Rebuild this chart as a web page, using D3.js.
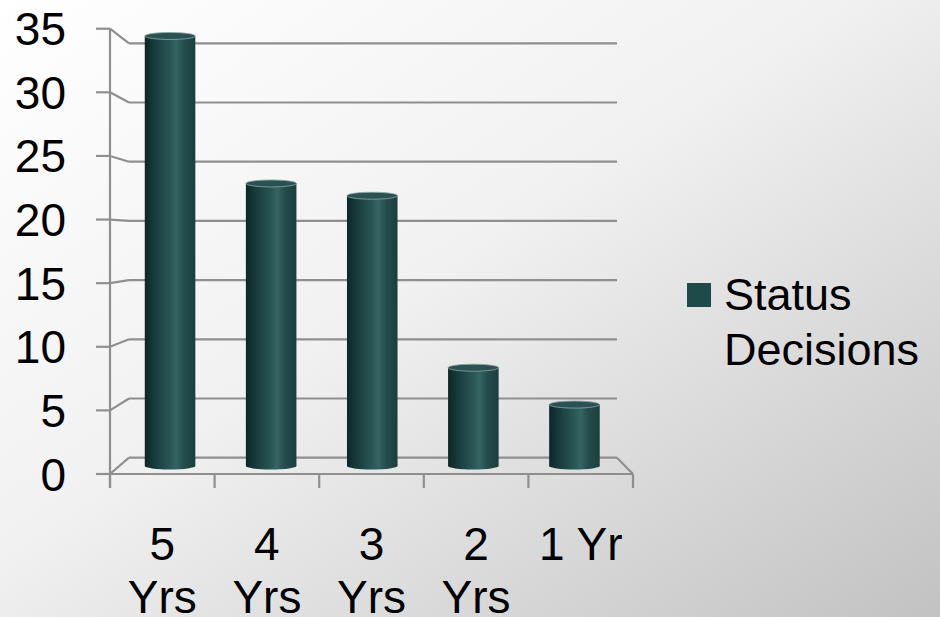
<!DOCTYPE html>
<html>
<head>
<meta charset="utf-8">
<script src="https://cdn.jsdelivr.net/npm/d3@7"></script>
<style>
  html, body { margin: 0; padding: 0; }
  svg { display: block; font-family: "Liberation Sans", Arial, sans-serif; }
</style>
</head>
<body>
<svg id="chart" width="940" height="617"></svg>
<script>
// chart data
const categories = ["5 Yrs", "4 Yrs", "3 Yrs", "2 Yrs", "1 Yr"];
const decisions = [35, 23, 22, 8, 5];
const yTicks = [0, 5, 10, 15, 20, 25, 30, 35];
const seriesName = "Status Decisions";

const svg = d3.select("#chart");
const width = +svg.attr("width");
const height = +svg.attr("height");
const defs = svg.append("defs");

// page background, white top-left to grey bottom-right
const bg = defs.append("linearGradient").attr("id", "bg")
  .attr("x1", 0).attr("y1", 0).attr("x2", 1).attr("y2", 1);
bg.append("stop").attr("offset", "0%").attr("stop-color", "#ffffff");
bg.append("stop").attr("offset", "45%").attr("stop-color", "#f1f1f1");
bg.append("stop").attr("offset", "100%").attr("stop-color", "#c2c2c2");
svg.append("rect").attr("width", width).attr("height", height).attr("fill", "url(#bg)");

// cylinder shading
const cyl = defs.append("linearGradient").attr("id", "cyl")
  .attr("x1", 0).attr("y1", 0).attr("x2", 1).attr("y2", 0);
[["0%", "#0e2627"], ["18%", "#173a3a"], ["50%", "#2b5656"], ["62%", "#366363"],
 ["78%", "#244c4c"], ["100%", "#1a3e3e"]].forEach(([o, c]) =>
  cyl.append("stop").attr("offset", o).attr("stop-color", c));

// front plane, back wall, and the depth where cylinders stand
const xFront = d3.scaleBand().domain(categories).range([110, 633]);
const xBack = [129, 617];
const xMid = d3.scaleBand().domain(categories).range([119.5, 625])
  .paddingInner(0.5).paddingOuter(0.25);
const yFront = d3.scaleLinear().domain([0, 35]).range([474, 28.7]);
const yBack = d3.scaleLinear().domain([0, 35]).range([457.7, 43.3]);
const yMid = d3.scaleLinear().domain([0, 35]).range([466, 36]);

const lineColor = "#8f8f8f";
const g = svg.append("g").attr("stroke", lineColor).attr("stroke-width", 2.2).attr("fill", "none");

// gridlines on back wall + slanted connectors + front ticks
yTicks.forEach(t => {
  g.append("line").attr("x1", xBack[0]).attr("x2", xBack[1])
    .attr("y1", yBack(t)).attr("y2", yBack(t));
  g.append("line").attr("x1", 110).attr("x2", xBack[0])
    .attr("y1", yFront(t)).attr("y2", yBack(t));
  g.append("line").attr("x1", 96).attr("x2", 110)
    .attr("y1", yFront(t)).attr("y2", yFront(t));
});

// floor front edge, right side edge
g.append("line").attr("x1", 110).attr("x2", 633).attr("y1", yFront(0)).attr("y2", yFront(0));
g.append("line").attr("x1", xBack[1]).attr("x2", 633).attr("y1", yBack(0)).attr("y2", yFront(0));

// vertical axis
g.append("line").attr("x1", 110).attr("x2", 110).attr("y1", yFront(35)).attr("y2", yFront(0) + 14);

// category ticks
const xEdges = categories.map(c => xFront(c)).concat([xFront.range()[1]]);
xEdges.forEach(x => {
  g.append("line").attr("x1", x).attr("x2", x).attr("y1", yFront(0)).attr("y2", yFront(0) + 14);
});

// y labels
svg.append("g").selectAll("text")
  .data(yTicks).enter().append("text")
  .attr("x", 66).attr("y", d => yFront(d))
  .attr("dy", "0.36em")
  .attr("text-anchor", "end")
  .style("font-size", "46px")
  .text(d => d);

// cylinders
const ry = 3.5;
const bars = svg.append("g").selectAll("g")
  .data(decisions).enter().append("g");

bars.append("rect")
  .attr("x", (d, i) => xMid(categories[i]))
  .attr("y", d => yMid(d))
  .attr("width", xMid.bandwidth())
  .attr("height", d => yMid(0) - yMid(d))
  .attr("fill", "url(#cyl)");

bars.append("ellipse")
  .attr("cx", (d, i) => xMid(categories[i]) + xMid.bandwidth() / 2)
  .attr("cy", yMid(0))
  .attr("rx", xMid.bandwidth() / 2).attr("ry", ry)
  .attr("fill", "url(#cyl)");

bars.append("ellipse")
  .attr("cx", (d, i) => xMid(categories[i]) + xMid.bandwidth() / 2)
  .attr("cy", d => yMid(d))
  .attr("rx", xMid.bandwidth() / 2).attr("ry", ry)
  .attr("fill", "#2a5252")
  .attr("stroke", "#8fa6a6").attr("stroke-width", 0.8);

// wrap a label into lines that fit maxW
function wrapLines(txt, maxW, size) {
  const probe = svg.append("text").style("font-size", size + "px").text(txt);
  const w = probe.node().getComputedTextLength();
  probe.remove();
  return w > maxW ? txt.split(" ") : [txt];
}

// x labels
categories.forEach(c => {
  const lines = wrapLines(c, 95, 46);
  const t = svg.append("text")
    .attr("text-anchor", "middle")
    .style("font-size", "46px");
  lines.forEach((ln, k) => {
    t.append("tspan")
      .attr("x", xFront(c) + xFront.bandwidth() / 2)
      .attr("y", 560 + k * 53)
      .text(ln);
  });
});

// legend
const legend = svg.append("g");
legend.append("rect").attr("x", 687).attr("y", 283)
  .attr("width", 24).attr("height", 24).attr("fill", "#1f4a4a");
const lt = legend.append("text").style("font-size", "45px");
wrapLines(seriesName, 200, 45).forEach((ln, k) => {
  lt.append("tspan").attr("x", 724).attr("y", 310 + k * 55).text(ln);
});
</script>
</body>
</html>
